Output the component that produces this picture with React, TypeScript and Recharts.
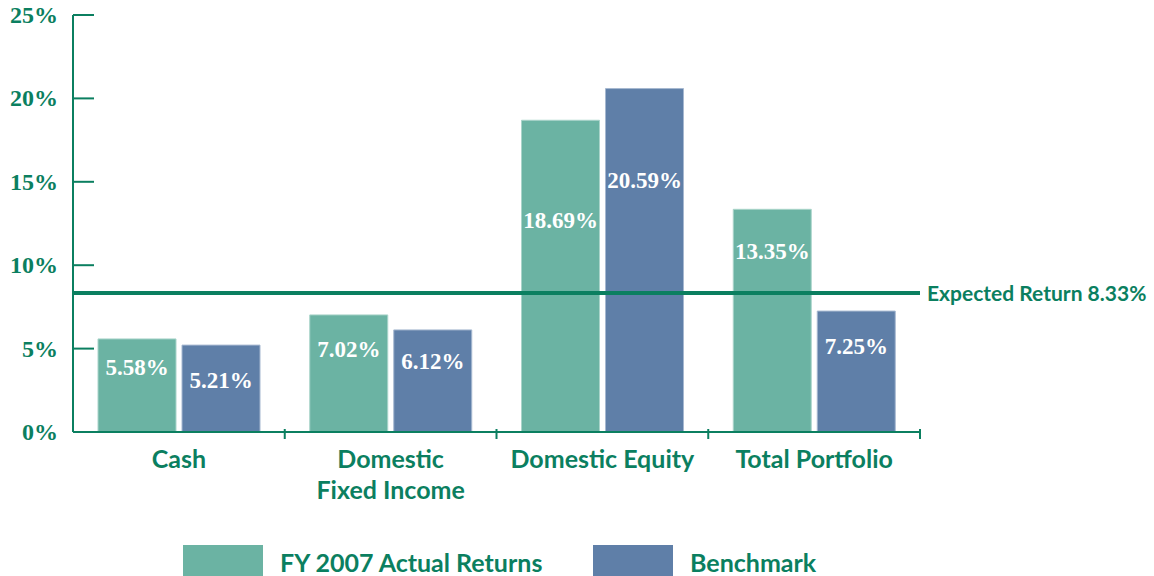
import { BarChart, Bar, XAxis, YAxis, ReferenceLine, Legend, LabelList } from "recharts";

const categories = ["Cash", "Domestic\nFixed Income", "Domestic Equity", "Total Portfolio"];
const actualReturns = [5.58, 7.02, 18.69, 13.35];
const benchmark = [5.21, 6.12, 20.59, 7.25];
const yTicks = [0, 5, 10, 15, 20, 25];
const expectedReturn = 8.33;

// how far below the bar top each value label sits (hand-placed in the original)
const actualLabelDy = [29, 35, 100, 42];
const benchLabelDy = [35, 32, 92, 35];

const GREEN = "#0b7f60";
const ACTUAL = "#6bb3a3";
const BENCH = "#5f7fa8";
const SANS = "Lato, 'Open Sans', sans-serif";
const SERIF = "'Liberation Serif', 'DejaVu Serif', serif";

const data = categories.map((name, i) => ({
  name,
  actual: actualReturns[i],
  bench: benchmark[i],
}));

const makeLabel = (dys: number[]) => (props: any) => {
  const { x, y, width, value, index } = props;
  return (
    <text
      x={x + width / 2}
      y={y + dys[index]}
      fill="#fff"
      textAnchor="middle"
      dominantBaseline="central"
      fontFamily={SERIF}
      fontWeight="bold"
      fontSize={23}
    >
      {value.toFixed(2)}%
    </text>
  );
};

function CategoryTick(props: any) {
  const { x, y, payload, width, visibleTicksCount } = props;
  const half = width / visibleTicksCount / 2;
  const lines = String(payload.value).split("\n");
  return (
    <g>
      <line x1={x + half} x2={x + half} y1={y - 1} y2={y - 11} stroke={GREEN} strokeWidth={2} />
      <text x={x} y={y + 28} textAnchor="middle" fill={GREEN} fontFamily={SANS} fontWeight="bold" fontSize={25}>
        {lines.map((l, i) => (
          <tspan key={i} x={x} dy={i === 0 ? 0 : 31}>
            {l}
          </tspan>
        ))}
      </text>
    </g>
  );
}

function ValueTick(props: any) {
  const { x, y, payload } = props;
  return (
    <g>
      {payload.value > 0 && <line x1={x + 15} x2={x + 36} y1={y} y2={y} stroke={GREEN} strokeWidth={2} />}
      <text x={x} y={y} textAnchor="end" dominantBaseline="central" fill={GREEN} fontFamily={SERIF} fontWeight="bold" fontSize={24}>
        {payload.value}%
      </text>
    </g>
  );
}

function LegendBox() {
  const items = [
    { label: "FY 2007 Actual Returns", color: ACTUAL, left: 183 },
    { label: "Benchmark", color: BENCH, left: 593 },
  ];
  return (
    <div style={{ position: "relative", width: 1154, height: 36 }}>
      {items.map((it) => (
        <div key={it.label} style={{ position: "absolute", left: it.left, top: 5, display: "flex", alignItems: "center" }}>
          <div style={{ width: 80, height: 34, background: it.color }} />
          <span style={{ marginLeft: 17, color: GREEN, fontFamily: SANS, fontWeight: "bold", fontSize: 25 }}>{it.label}</span>
        </div>
      ))}
    </div>
  );
}

export default function App() {
  return (
    <div style={{ position: "absolute", left: 0, top: 0, width: 1154, height: 576, background: "#fff", overflow: "hidden" }}>
      <BarChart
        width={1154}
        height={576}
        data={data}
        margin={{ top: 15, right: 234, bottom: 0, left: 0 }}
        barCategoryGap={25}
        barGap={6}
      >
        <XAxis
          dataKey="name"
          height={108}
          axisLine={{ stroke: GREEN, strokeWidth: 2 }}
          tickLine={false}
          tick={<CategoryTick />}
          interval={0}
        />
        <YAxis
          width={73}
          domain={[0, 25]}
          ticks={yTicks}
          axisLine={{ stroke: GREEN, strokeWidth: 2 }}
          tickLine={false}
          tickSize={0}
          tickMargin={15}
          tick={<ValueTick />}
        />
        <Bar dataKey="actual" fill={ACTUAL} stroke="#a9d4ca" strokeWidth={1} isAnimationActive={false}>
          <LabelList dataKey="actual" content={makeLabel(actualLabelDy)} />
        </Bar>
        <Bar dataKey="bench" fill={BENCH} stroke="#a6b8d0" strokeWidth={1} isAnimationActive={false}>
          <LabelList dataKey="bench" content={makeLabel(benchLabelDy)} />
        </Bar>
        <ReferenceLine
          y={expectedReturn}
          stroke={GREEN}
          strokeWidth={4}
          label={{
            value: `Expected Return ${expectedReturn}%`,
            position: "right",
            offset: 7,
            fill: GREEN,
            fontFamily: SANS,
            fontWeight: "bold",
            fontSize: 21,
          }}
        />
        <Legend
          verticalAlign="bottom"
          height={36}
          content={<LegendBox />}
          wrapperStyle={{ left: 0, width: 1154, bottom: 0 }}
        />
      </BarChart>
    </div>
  );
}
